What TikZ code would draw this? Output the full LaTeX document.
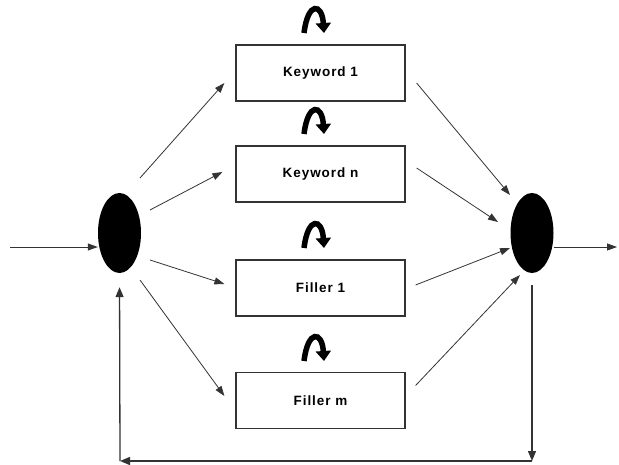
\documentclass[tikz,border=0pt]{standalone}
\usepackage{fontspec}
\usetikzlibrary{shapes.geometric,arrows.meta,calc}
\newfontfamily\lblfont{Liberation Sans}[LetterSpace=7]
\definecolor{edge}{HTML}{333333}
\tikzset{
  box/.style={draw=edge, line width=1.2pt, minimum width=169pt, minimum height=56pt,
    inner sep=0pt, font=\lblfont\bfseries\fontsize{13.5}{15}\selectfont},
  blob/.style={ellipse, fill=black, minimum width=43pt, minimum height=80pt, inner sep=0pt},
  flow/.style={draw=edge, line width=0.8pt, -{Triangle[length=10pt,width=7pt]}},
  back/.style={draw=edge, line width=1.3pt, -{Triangle[length=10pt,width=8pt]}},
  turn/.pic={
    \draw[line width=5.5pt, black, -{Triangle[length=10pt,width=15pt]}]
      (-12,14) .. controls (-8,-18) and (6,-16) .. (8,14);
  }
}
\begin{document}
\begin{tikzpicture}[x=1pt,y=-1pt]
  \useasboundingbox (0,0) rectangle (619,465);

  % junction points
  \node[blob] (L) at (119.5,233) {};
  \node[blob] (R) at (532,233) {};

  % alternative branches
  \node[box] (k1) at (320.5,73) {Keyword 1};
  \node[box] (kn) at (320.5,174) {Keyword n};
  \node[box] (f1) at (320.5,288) {Filler 1};
  \node[box] (fm) at (320.5,400.5) {Filler m};

  % self loops above each branch
  \pic at (316,19) {turn};
  \pic at (316,120) {turn};
  \pic at (316,234) {turn};
  \pic at (316,347) {turn};

  % input and output
  \coordinate (in) at (10,247);
  \coordinate (out) at (617,247);
  \draw[flow] (in) -- (L.west |- in);
  \draw[flow] (R.east |- out) -- (out);

  % fan out
  \draw[flow] ($(L.center)+(20.5,-55)$) -- ($(k1.west)+(-11,10)$);
  \draw[flow] ($(L.center)+(30.5,-23)$) -- ($(kn.west)+(-13,-2)$);
  \draw[flow] ($(L.center)+(30.5,27)$) -- ($(f1.west)+(-11,-4)$);
  \draw[flow] ($(L.center)+(20.5,47)$) -- ($(fm.west)+(-11,-4.5)$);

  % fan in
  \draw[flow] ($(k1.east)+(11,10)$) -- ($(R.center)+(-22,-38)$);
  \draw[flow] ($(kn.east)+(11,-6)$) -- ($(R.center)+(-34,-11)$);
  \draw[flow] ($(f1.east)+(10,-3)$) -- ($(R.center)+(-22,15)$);
  \draw[flow] ($(fm.east)+(10,-15)$) -- ($(R.center)+(-12,42)$);

  % feedback path
  \coordinate (fbR) at (532,461);
  \coordinate (fbL) at (120,461);
  \draw[back, shorten <=12pt] (R.south) -- (fbR);
  \draw[back] (fbR) -- (fbL);
  \draw[back, shorten >=14pt] (fbL) -- (L.south);
\end{tikzpicture}
\end{document}
